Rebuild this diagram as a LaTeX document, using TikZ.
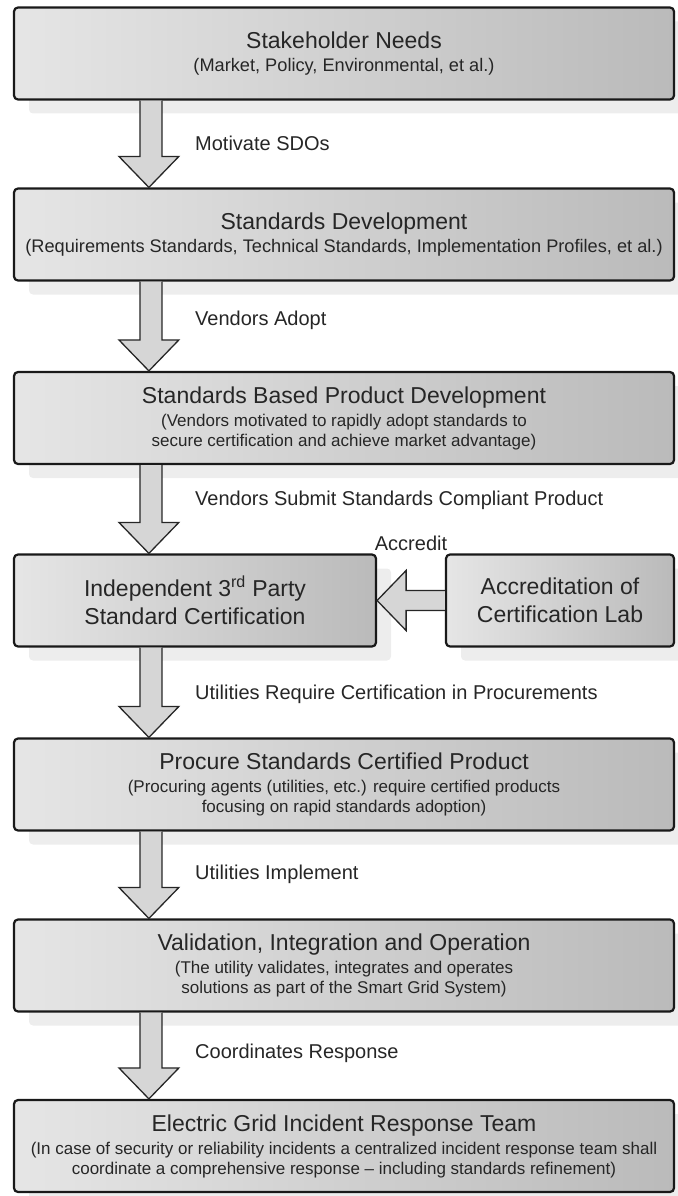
\documentclass[tikz,border=0pt]{standalone}
\usepackage{fontspec}
\setmainfont{Liberation Sans}
\usetikzlibrary{calc,shadows}

\newcommand{\titlefont}{\fontsize{23}{28}\selectfont}
\newcommand{\bigsub}{\fontsize{18.2}{21}\selectfont}

\begin{document}
\begin{tikzpicture}[x=1pt,y=-1pt,
    box/.style={draw=black!90,line width=2.2pt,rounded corners=4pt,
      left color=black!10,right color=black!27,minimum height=92pt,
      text=black!85,align=center,font=\fontsize{17}{20}\selectfont,
      drop shadow={shadow xshift=15pt,shadow yshift=-14pt,fill=black!7,opacity=1}},
    blk/.style={draw=black!85,line width=1.3pt,fill=black!16,line join=miter},
    lbl/.style={anchor=west,text=black!85,font=\fontsize{20}{24}\selectfont,inner sep=0pt}]
    \useasboundingbox (0,0) rectangle (677,1196);
    % the boxes
    \node[box,minimum width=660pt] (needs) at (344,53.5) {{\titlefont Stakeholder Needs}\\[3pt]{\bigsub (Market, Policy, Environmental, et al.)}};
    \node[box,minimum width=660pt] (sdev) at (344,234.5) {{\titlefont Standards Development}\\[3pt]{\bigsub (Requirements Standards, Technical Standards, Implementation Profiles, et al.)}};
    \node[box,minimum width=660pt] (prod) at (344,418) {{\titlefont Standards Based Product Development}\\[3pt](Vendors motivated to rapidly adopt standards to\\secure certification and achieve market advantage)};
    \node[box,font=\titlefont,minimum width=362pt] (cert) at (195,600.5) {Independent 3\textsuperscript{rd} Party\\Standard Certification};
    \node[box,font=\titlefont,minimum width=228pt] (lab) at (560,600.5) {Accreditation of\\Certification Lab};
    \node[box,minimum width=660pt] (proc) at (344,784.5) {{\titlefont Procure Standards Certified Product}\\[3pt](Procuring agents (utilities, etc.) require certified products\\focusing on rapid standards adoption)};
    \node[box,minimum width=660pt] (valid) at (344,965.5) {{\titlefont Validation, Integration and Operation}\\[3pt](The utility validates, integrates and operates\\solutions as part of the Smart Grid System)};
    \node[box,minimum width=660pt] (resp) at (344,1146) {{\titlefont Electric Grid Incident Response Team}\\[3pt](In case of security or reliability incidents a centralized incident response team shall\\coordinate a comprehensive response \textendash{} including standards refinement)};
    % block arrows
    \draw[blk] ($(needs.south west)+(127,0)$) -- ($(sdev.north west)+(127,-31)$) -- ($(sdev.north west)+(106,-31)$) -- ($(sdev.north west)+(136,0)$) -- ($(sdev.north west)+(166,-31)$) -- ($(sdev.north west)+(149,-31)$) -- ($(needs.south west)+(149,0)$);
    \draw[blk] ($(sdev.south west)+(127,0)$) -- ($(prod.north west)+(127,-31)$) -- ($(prod.north west)+(106,-31)$) -- ($(prod.north west)+(136,0)$) -- ($(prod.north west)+(166,-31)$) -- ($(prod.north west)+(149,-31)$) -- ($(sdev.south west)+(149,0)$);
    \draw[blk] ($(prod.south west)+(127,0)$) -- ($(cert.north west)+(127,-31)$) -- ($(cert.north west)+(106,-31)$) -- ($(cert.north west)+(136,0)$) -- ($(cert.north west)+(166,-31)$) -- ($(cert.north west)+(149,-31)$) -- ($(prod.south west)+(149,0)$);
    \draw[blk] ($(cert.south west)+(127,0)$) -- ($(proc.north west)+(127,-31)$) -- ($(proc.north west)+(106,-31)$) -- ($(proc.north west)+(136,0)$) -- ($(proc.north west)+(166,-31)$) -- ($(proc.north west)+(149,-31)$) -- ($(cert.south west)+(149,0)$);
    \draw[blk] ($(proc.south west)+(127,0)$) -- ($(valid.north west)+(127,-31)$) -- ($(valid.north west)+(106,-31)$) -- ($(valid.north west)+(136,0)$) -- ($(valid.north west)+(166,-31)$) -- ($(valid.north west)+(149,-31)$) -- ($(proc.south west)+(149,0)$);
    \draw[blk] ($(valid.south west)+(127,0)$) -- ($(resp.north west)+(127,-31)$) -- ($(resp.north west)+(106,-31)$) -- ($(resp.north west)+(136,0)$) -- ($(resp.north west)+(166,-31)$) -- ($(resp.north west)+(149,-31)$) -- ($(valid.south west)+(149,0)$);
    \draw[blk] ($(lab.west)+(0,-10)$) -- ($(cert.east)+(29,-10)$) -- ($(cert.east)+(29,-30)$) -- (cert.east) -- ($(cert.east)+(29,30)$) -- ($(cert.east)+(29,10)$) -- ($(lab.west)+(0,10)$);
    % arrow labels
    \node[lbl] (motiv) at (195,143) {Motivate SDOs};
    \node[lbl] (adopt) at (195,320) {Vendors Adopt};
    \node[lbl] (submit) at (195,500) {Vendors Submit Standards Compliant Product};
    \node[lbl,anchor=center] (accr) at (411,543) {Accredit};
    \node[lbl] (require) at (195,694) {Utilities Require Certification in Procurements};
    \node[lbl] (impl) at (195,874) {Utilities Implement};
    \node[lbl] (coord) at (195,1053) {Coordinates Response};
\end{tikzpicture}
\end{document}
